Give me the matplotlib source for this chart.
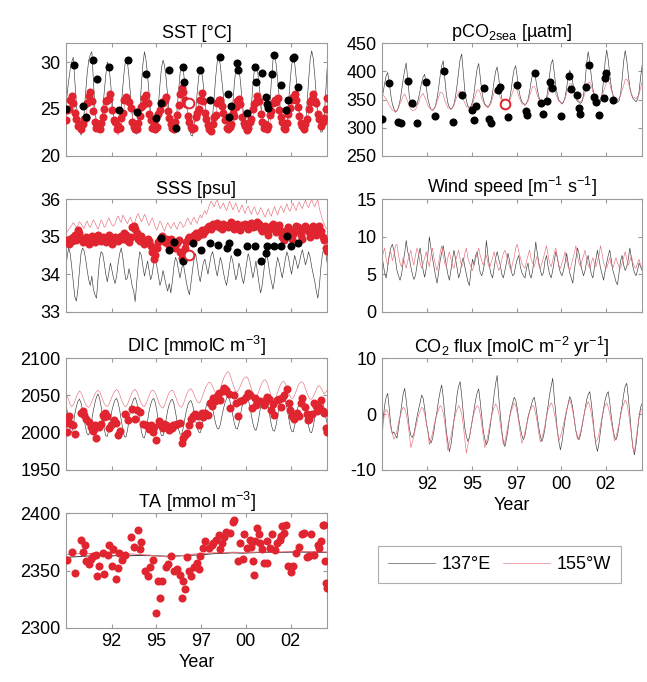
import numpy as np
import matplotlib
matplotlib.use("Agg")
import matplotlib.pyplot as plt
from matplotlib.lines import Line2D

plt.rcParams['font.family'] = ['Liberation Sans', 'DejaVu Sans']
plt.rcParams['mathtext.fontset'] = 'custom'
plt.rcParams['mathtext.rm'] = 'Liberation Sans'
plt.rcParams['mathtext.it'] = 'Liberation Sans:italic'
plt.rcParams['mathtext.bf'] = 'Liberation Sans:bold'
plt.rcParams['axes.unicode_minus'] = False

# ---------------------------------------------------------------------------
# Monthly model series, May 1990 .. Jun 2004 (137E = black, 155W = red)
# ---------------------------------------------------------------------------
sst_137 = [
    25.0, 26.5, 28.0, 29.2, 30.0, 30.5, 28.0, 25.5,
    24.0, 22.8, 22.2, 22.8, 24.5, 26.8, 28.8, 30.2, 30.8, 31.1, 28.0, 25.0,
    23.4, 22.6, 22.5, 23.2, 24.8, 26.8, 28.6, 30.0, 29.6, 28.0, 26.0, 24.2,
    23.6, 22.9, 22.7, 23.4, 25.2, 27.4, 29.2, 30.4, 30.0, 28.4, 26.4, 24.6,
    23.2, 22.4, 22.3, 23.0, 25.0, 27.6, 29.8, 31.1, 30.2, 28.6, 26.5, 24.5,
    23.6, 22.8, 22.6, 23.4, 25.4, 27.6, 29.4, 30.2, 29.6, 28.2, 26.3, 24.6,
    23.2, 22.5, 22.4, 23.1, 24.8, 26.9, 28.8, 29.6, 29.2, 27.8, 26.0, 24.3,
    23.1, 22.2, 22.1, 22.9, 24.6, 26.6, 28.4, 29.3, 29.0, 27.6, 25.8, 24.0,
    23.5, 23.0, 23.3, 24.2, 26.2, 28.4, 30.0, 30.7, 29.6, 28.0, 26.4, 24.8,
    23.8, 23.0, 22.8, 23.5, 25.4, 27.6, 29.3, 30.0, 29.4, 27.9, 26.0, 24.4,
    23.4, 22.6, 22.5, 23.3, 25.2, 27.5, 29.2, 29.8, 29.1, 27.7, 25.9, 24.3,
    23.6, 22.9, 22.7, 23.6, 25.6, 28.0, 30.2, 30.9, 29.8, 28.2, 26.3, 24.6,
    23.5, 22.7, 22.6, 23.4, 25.4, 27.8, 29.6, 30.5, 29.9, 28.3, 26.4, 24.7,
    23.6, 22.8, 22.4, 23.2, 25.4, 28.0, 30.2, 31.2, 30.4, 28.6, 26.4, 24.5,
    23.3, 22.5, 22.6, 23.8, 26.5, 29.3,
]
sst_155 = [
    24.0, 24.6, 25.2, 25.8, 26.2, 26.0, 25.2, 24.3,
    23.6, 23.0, 22.8, 23.0, 23.6, 24.2, 25.0, 25.7, 26.3, 26.1, 25.3, 24.4,
    23.5, 22.8, 22.5, 22.8, 23.4, 24.3, 25.1, 25.9, 26.4, 26.0, 25.1, 24.2,
    23.4, 22.7, 22.2, 22.6, 23.3, 24.2, 25.2, 26.0, 26.6, 26.2, 25.3, 24.4,
    23.5, 22.9, 22.6, 22.9, 23.5, 24.4, 25.3, 26.1, 26.5, 26.2, 25.2, 24.1,
    23.2, 22.6, 22.4, 22.7, 23.4, 24.3, 25.2, 26.0, 26.4, 26.0, 25.1, 24.2,
    23.3, 22.7, 22.5, 22.8, 23.6, 24.5, 25.4, 26.3, 26.8, 26.3, 25.4, 24.5,
    23.6, 23.0, 22.8, 23.1, 23.8, 24.6, 25.5, 26.2, 26.6, 26.2, 25.4, 24.5,
    23.6, 22.9, 22.7, 23.0, 23.6, 24.4, 25.3, 26.0, 26.3, 26.0, 25.2, 24.3,
    23.3, 22.6, 22.4, 22.7, 23.3, 24.1, 25.0, 25.8, 26.2, 25.9, 25.1, 24.1,
    23.2, 22.6, 22.4, 22.6, 23.3, 24.2, 25.1, 25.9, 26.3, 26.0, 25.2, 24.2,
    23.3, 22.7, 22.5, 22.8, 23.5, 24.4, 25.3, 26.1, 26.5, 26.1, 25.3, 24.3,
    23.4, 22.8, 22.6, 22.9, 23.6, 24.5, 25.5, 26.3, 26.8, 26.4, 25.5, 24.6,
    23.7, 23.1, 22.8, 23.0, 23.7, 24.5, 25.4, 26.2, 26.7, 26.3, 25.4, 24.5,
    23.6, 23.0, 22.8, 23.1, 23.8, 24.6,
]
pco2_137 = [
    348, 362, 378, 392, 398, 380, 358, 342,
    334, 328, 330, 336, 348, 365, 385, 402, 415, 385, 356, 342,
    337, 336, 338, 342, 352, 366, 380, 390, 395, 372, 352, 341,
    333, 331, 333, 339, 352, 370, 392, 410, 419, 388, 360, 344,
    336, 333, 335, 342, 356, 376, 400, 422, 431, 398, 366, 348,
    338, 336, 338, 346, 362, 385, 405, 414, 390, 366, 350, 342,
    339, 337, 340, 348, 362, 383, 400, 408, 388, 366, 352, 344,
    341, 339, 342, 350, 366, 388, 404, 410, 390, 368, 354, 346,
    343, 341, 343, 350, 364, 382, 396, 401, 386, 368, 355, 348,
    344, 341, 343, 352, 370, 395, 414, 421, 398, 374, 358, 349,
    345, 342, 345, 354, 370, 390, 402, 396, 380, 364, 353, 347,
    345, 343, 346, 358, 382, 415, 435, 418, 392, 370, 357, 350,
    347, 344, 347, 360, 385, 418, 438, 420, 394, 372, 358, 351,
    348, 345, 348, 360, 386, 418, 437, 420, 394, 372, 359, 352,
    349, 346, 350, 364, 390, 411,
]
pco2_155 = [
    352, 358, 355, 351, 346, 340, 336, 331,
    330, 327, 331, 335, 343, 349, 356, 360, 353, 346, 337, 334,
    330, 331, 332, 338, 343, 353, 357, 361, 354, 348, 339, 335,
    333, 330, 334, 337, 347, 354, 363, 363, 359, 348, 342, 335,
    335, 332, 336, 339, 349, 356, 364, 365, 361, 350, 344, 337,
    337, 333, 337, 341, 351, 359, 367, 367, 362, 351, 346, 339,
    338, 335, 339, 343, 353, 361, 369, 369, 364, 353, 347, 340,
    340, 337, 341, 345, 355, 363, 371, 371, 366, 355, 349, 342,
    342, 339, 343, 347, 357, 365, 373, 373, 368, 357, 351, 344,
    344, 341, 345, 349, 359, 367, 376, 376, 371, 359, 353, 346,
    346, 343, 347, 351, 361, 369, 378, 378, 373, 361, 355, 348,
    348, 345, 349, 353, 363, 371, 380, 381, 376, 364, 357, 350,
    350, 347, 351, 355, 365, 373, 382, 383, 378, 366, 359, 352,
    352, 349, 353, 357, 367, 375, 385, 386, 381, 369, 361, 354,
    354, 351, 355, 359, 371, 381,
]
sss_137 = [
    34.05, 34.45, 34.70, 34.55, 34.20, 33.80, 33.40, 33.28,
    33.60, 34.10, 34.55, 34.70, 34.62, 34.40, 34.10, 33.85, 33.70, 33.95, 33.60, 33.45,
    33.36, 33.90, 34.40, 34.60, 34.55, 34.30, 34.00, 33.80, 34.05, 34.30, 34.10, 33.90,
    33.75, 33.95, 34.30, 34.55, 34.70, 34.45, 34.10, 33.85, 33.90, 34.15, 33.95, 33.70,
    33.55, 33.27, 33.80, 34.30, 34.60, 34.50, 34.20, 33.95, 34.15, 34.35, 34.10, 33.85,
    34.00, 34.30, 34.40, 34.20, 33.95, 33.70, 33.85, 34.10, 33.90, 33.70, 33.55, 33.75,
    33.50, 33.80, 34.20, 34.45, 34.35, 34.10, 33.90, 34.15, 34.30, 34.05, 33.80, 33.60,
    33.45, 33.75, 34.10, 34.40, 34.55, 34.30, 34.00, 33.80, 34.05, 34.30, 34.40, 34.20,
    34.00, 34.25, 34.50, 34.60, 34.40, 34.15, 33.95, 34.20, 34.45, 34.30, 34.05, 33.85,
    33.70, 33.95, 34.25, 34.50, 34.35, 34.10, 33.85, 34.00, 34.30, 34.15, 33.90, 33.75,
    34.00, 34.30, 34.55, 34.40, 34.15, 33.90, 34.10, 34.35, 34.05, 33.75, 33.50, 33.70,
    34.05, 34.40, 34.55, 34.30, 34.00, 33.80, 33.60, 33.85, 34.20, 34.45, 34.30, 34.10,
    33.90, 34.15, 34.40, 34.60, 34.45, 34.20, 34.00, 34.25, 34.50, 34.35, 34.15, 34.30,
    34.50, 34.65, 34.45, 34.25, 34.40, 34.60, 34.45, 34.20, 34.00, 33.80, 33.55, 33.36,
    33.70, 34.20, 34.55, 34.70, 34.60, 34.30,
]
sss_155 = [
    35.05, 35.12, 35.20, 35.25, 35.30, 35.38, 35.32, 35.25,
    35.30, 35.40, 35.35, 35.28, 35.22, 35.35, 35.42, 35.30, 35.25, 35.35, 35.45, 35.38,
    35.28, 35.20, 35.32, 35.45, 35.38, 35.25, 35.30, 35.42, 35.50, 35.40, 35.32, 35.28,
    35.35, 35.48, 35.55, 35.45, 35.38, 35.58, 35.50, 35.42, 35.35, 35.45, 35.52, 35.40,
    35.30, 35.42, 35.55, 35.62, 35.50, 35.40, 35.48, 35.60, 35.52, 35.38, 35.30, 35.42,
    35.50, 35.40, 35.25, 35.18, 35.30, 35.42, 35.35, 35.22, 35.15, 35.28, 35.38, 35.30,
    35.22, 35.30, 35.38, 35.28, 35.20, 35.32, 35.40, 35.35, 35.25, 35.30, 35.42, 35.50,
    35.40, 35.32, 35.45, 35.52, 35.42, 35.35, 35.48, 35.58, 35.50, 35.62, 35.70, 35.60,
    35.72, 35.85, 35.95, 35.88, 35.80, 35.92, 35.98, 35.85, 35.75, 35.82, 35.90, 35.78,
    35.70, 35.82, 35.95, 35.85, 35.72, 35.80, 35.90, 35.78, 35.65, 35.75, 35.85, 35.72,
    35.62, 35.75, 35.82, 35.70, 35.60, 35.72, 35.80, 35.68, 35.58, 35.65, 35.78, 35.70,
    35.60, 35.52, 35.65, 35.75, 35.62, 35.55, 35.70, 35.80, 35.68, 35.58, 35.72, 35.82,
    35.75, 35.65, 35.78, 35.88, 35.75, 35.68, 35.80, 35.90, 35.78, 35.70, 35.85, 35.92,
    35.82, 35.75, 35.88, 35.98, 35.85, 35.78, 35.90, 36.00, 35.88, 35.80, 35.92, 35.98,
    35.75, 35.60, 35.45, 35.35, 35.25, 35.20,
]
wind_137 = [
    7.8, 6.5, 5.2, 4.5, 6.0, 7.5, 8.5, 9.0,
    8.2, 7.0, 5.5, 4.8, 4.2, 5.0, 6.5, 7.8, 9.5, 8.0, 7.2, 6.0,
    5.0, 4.3, 4.8, 6.2, 7.5, 8.5, 7.0, 5.5, 4.6, 5.8, 7.5, 10.0,
    8.5, 7.2, 6.0, 4.8, 3.8, 5.2, 6.8, 7.8, 8.8, 7.5, 6.2, 5.0,
    4.2, 5.5, 7.0, 8.2, 7.0, 5.8, 4.5, 5.2, 6.5, 7.2, 6.0, 5.0,
    4.0, 3.5, 5.5, 7.0, 6.2, 7.5, 8.0, 6.5, 5.2, 4.8, 5.5, 6.8,
    9.5, 7.5, 6.0, 5.0, 4.5, 5.8, 7.2, 8.0, 7.0, 6.2, 5.0, 4.5,
    5.5, 6.5, 7.8, 6.8, 5.5, 4.8, 5.0, 6.2, 7.0, 7.5, 6.0, 5.2,
    4.8, 4.5, 5.8, 6.5, 5.0, 4.5, 5.5, 7.2, 9.3, 7.8, 6.5, 5.5,
    4.8, 5.2, 6.8, 7.5, 6.0, 5.0, 4.5, 5.5, 6.8, 8.0, 7.2, 6.0,
    5.2, 4.8, 5.5, 6.5, 7.8, 6.5, 5.2, 4.5, 3.8, 5.5, 7.0, 8.5,
    7.8, 6.5, 5.5, 4.8, 5.5, 6.8, 7.5, 6.2, 5.0, 4.5, 5.8, 7.0,
    8.2, 7.0, 5.8, 5.0, 4.2, 5.5, 6.5, 7.5, 8.2, 6.8, 5.5, 4.8,
    4.0, 3.6, 5.2, 6.8, 7.5, 6.2, 5.5, 6.0, 7.0, 8.5, 7.2, 6.0,
    5.2, 4.8, 5.5, 6.5, 6.0, 5.5,
]
wind_155 = [
    6.5, 7.8, 8.5, 7.0, 6.2, 7.5, 8.0, 6.8,
    7.5, 8.8, 9.0, 7.5, 6.5, 6.0, 7.2, 6.5, 5.8, 6.8, 7.5, 8.2,
    7.0, 6.2, 7.5, 8.5, 7.8, 6.5, 5.8, 6.5, 7.2, 8.0, 6.8, 6.0,
    7.5, 8.5, 7.2, 6.2, 5.5, 6.5, 7.8, 8.8, 7.5, 6.5, 6.0, 7.2,
    8.0, 7.0, 6.2, 5.8, 6.8, 7.5, 8.2, 7.0, 6.0, 6.5, 7.8, 8.5,
    7.2, 6.5, 6.0, 5.5, 6.2, 7.0, 7.8, 8.5, 7.5, 6.8, 6.2, 7.0,
    7.5, 6.5, 5.8, 6.5, 7.2, 8.0, 7.0, 6.2, 5.5, 6.0, 7.0, 7.8,
    8.2, 7.5, 6.8, 6.0, 5.5, 6.5, 7.2, 8.5, 9.0, 8.0, 7.2, 6.5,
    6.0, 5.8, 6.8, 7.5, 8.2, 7.0, 6.5, 6.0, 6.8, 7.5, 6.2, 5.8,
    6.5, 7.2, 8.0, 8.8, 7.5, 6.5, 6.0, 6.8, 7.8, 8.5, 7.2, 6.2,
    5.8, 6.5, 7.2, 8.0, 6.8, 6.0, 5.5, 6.2, 7.0, 7.8, 8.8, 7.5,
    6.5, 6.0, 6.8, 7.5, 8.2, 7.0, 6.2, 5.8, 6.5, 7.2, 6.5, 6.0,
    6.8, 7.5, 8.8, 7.8, 6.5, 6.0, 5.8, 6.5, 7.2, 6.2, 5.8, 6.5,
    7.2, 6.5, 6.0, 5.8, 6.5, 7.2, 8.0, 7.0, 6.2, 6.8, 7.5, 6.5,
    6.0, 5.8, 6.5, 7.0, 6.2, 5.8,
]
dic_137 = [
    2040, 2030, 2015, 2003, 2000, 2010, 2025, 2035,
    2042, 2045, 2040, 2030, 2018, 2006, 1998, 1997, 2005, 2018, 2030, 2040,
    2048, 2052, 2046, 2035, 2020, 2005, 1996, 1995, 2004, 2018, 2030, 2038,
    2044, 2046, 2040, 2030, 2017, 2004, 1995, 1994, 2003, 2017, 2030, 2039,
    2045, 2047, 2041, 2030, 2016, 2002, 1994, 1993, 2002, 2016, 2029, 2038,
    2044, 2046, 2040, 2029, 2015, 2003, 1996, 1996, 2005, 2018, 2030, 2038,
    2043, 2045, 2039, 2028, 2016, 2005, 1998, 1998, 2006, 2018, 2029, 2037,
    2042, 2043, 2038, 2028, 2017, 2007, 2001, 2000, 2007, 2018, 2028, 2036,
    2042, 2044, 2040, 2032, 2022, 2012, 2006, 2005, 2011, 2022, 2032, 2040,
    2046, 2048, 2044, 2035, 2024, 2013, 2006, 2005, 2012, 2024, 2035, 2043,
    2048, 2050, 2045, 2036, 2024, 2013, 2005, 2003, 2010, 2022, 2034, 2042,
    2047, 2049, 2044, 2034, 2022, 2010, 2003, 2002, 2010, 2022, 2034, 2042,
    2047, 2049, 2044, 2034, 2022, 2010, 2002, 2001, 2009, 2021, 2033, 2041,
    2046, 2048, 2043, 2033, 2021, 2009, 2001, 2000, 2008, 2020, 2032, 2040,
    2045, 2047, 2042, 2033, 2022, 2012,
]
dic_155 = [
    2055, 2050, 2044, 2038, 2035, 2037, 2042, 2048,
    2053, 2056, 2054, 2049, 2043, 2038, 2035, 2034, 2037, 2042, 2047, 2052,
    2055, 2057, 2055, 2050, 2044, 2039, 2036, 2035, 2038, 2043, 2048, 2053,
    2056, 2058, 2056, 2051, 2045, 2040, 2036, 2035, 2038, 2043, 2049, 2054,
    2057, 2058, 2055, 2050, 2044, 2039, 2036, 2035, 2039, 2044, 2050, 2055,
    2057, 2056, 2053, 2048, 2042, 2037, 2034, 2033, 2037, 2043, 2049, 2054,
    2056, 2057, 2054, 2049, 2043, 2038, 2035, 2034, 2038, 2044, 2050, 2055,
    2058, 2059, 2056, 2051, 2046, 2042, 2040, 2041, 2046, 2052, 2058, 2063,
    2066, 2068, 2066, 2062, 2057, 2053, 2052, 2054, 2059, 2066, 2072, 2077,
    2080, 2082, 2079, 2073, 2066, 2060, 2056, 2055, 2058, 2063, 2068, 2072,
    2074, 2075, 2072, 2066, 2059, 2053, 2049, 2048, 2051, 2056, 2062, 2067,
    2070, 2071, 2068, 2062, 2055, 2049, 2046, 2045, 2048, 2054, 2060, 2065,
    2068, 2069, 2066, 2060, 2054, 2049, 2046, 2046, 2050, 2056, 2062, 2066,
    2068, 2068, 2065, 2059, 2053, 2048, 2045, 2045, 2048, 2053, 2058, 2062,
    2063, 2060, 2056, 2052, 2054, 2057,
]
flux_137 = [
    -4.3, -1.0, 1.5, 3.0, 3.7, 1.0, -2.0, -3.5,
    -3.2, -3.8, -4.3, -2.5, -0.5, 1.5, 3.5, 4.6, 2.5, 0.0, -2.5, -3.8,
    -4.2, -3.5, -2.0, -0.5, 0.8, 2.0, 3.4, 2.8, 1.0, -1.5, -3.0, -4.5,
    -5.2, -4.5, -3.0, -1.0, 0.5, 2.5, 4.0, 5.2, 3.0, 0.0, -3.0, -5.0,
    -6.7, -5.5, -3.5, -1.0, 1.0, 3.5, 5.0, 5.8, 3.2, 0.2, -2.5, -4.0,
    -4.9, -4.2, -2.5, -0.8, 0.8, 2.5, 3.8, 4.5, 2.2, -0.5, -3.0, -4.5,
    -5.5, -4.8, -3.0, -1.0, 1.0, 3.5, 5.5, 6.9, 3.0, 0.0, -3.0, -5.0,
    -5.8, -4.5, -2.8, -0.5, 0.8, 2.0, 3.0, 2.5, 1.0, -1.0, -2.5, -3.8,
    -4.6, -3.8, -2.2, -0.5, 0.5, 1.5, 2.5, 3.0, 1.5, -0.5, -2.5, -4.0,
    -4.9, -4.0, -2.5, -0.2, 1.5, 3.5, 5.0, 6.4, 3.0, 0.0, -3.0, -5.0,
    -6.4, -5.0, -3.0, -1.0, 0.5, 1.8, 3.1, 2.5, 1.0, -1.0, -3.0, -4.0,
    -4.6, -3.8, -2.2, -0.5, 1.0, 2.5, 3.5, 4.0, 2.0, -0.5, -3.5, -5.5,
    -6.7, -5.2, -3.0, -0.8, 1.0, 2.5, 3.5, 4.0, 2.0, -0.5, -2.5, -4.0,
    -4.6, -3.8, -2.0, 0.0, 1.5, 3.5, 5.0, 5.5, 3.0, 0.0, -3.5, -6.0,
    -7.3, -5.5, -3.0, -0.5, 1.2, 1.9,
]
flux_155 = [
    -5.5, -2.0, 0.2, 0.8, 0.5, -1.0, -2.5, -3.5,
    -4.5, -4.0, -3.0, -1.5, -0.5, 0.5, 1.2, 1.0, 0.0, -1.5, -3.5, -6.0,
    -5.0, -4.0, -2.5, -1.5, -0.2, 0.5, 1.2, 1.0, 0.0, -1.5, -3.0, -5.5,
    -4.5, -3.5, -2.0, -1.0, 0.0, 0.8, 1.5, 1.2, 0.2, -1.5, -4.0, -6.5,
    -5.0, -4.0, -2.5, -1.2, 0.0, 0.8, 1.5, 1.0, 0.0, -2.0, -4.5, -7.0,
    -5.5, -4.0, -2.5, -1.0, 0.2, 1.0, 1.5, 1.2, 0.0, -2.0, -4.0, -6.0,
    -5.0, -3.8, -2.2, -0.8, 0.3, 1.2, 1.8, 1.2, 0.2, -1.8, -3.5, -5.5,
    -4.8, -3.5, -2.0, -0.8, 0.5, 1.2, 2.0, 1.5, 0.2, -1.5, -3.5, -5.2,
    -4.5, -3.2, -2.0, -0.8, 0.5, 1.0, 1.5, 1.2, 0.0, -1.5, -3.5, -5.0,
    -4.2, -3.2, -2.0, -0.5, 0.8, 1.5, 2.0, 1.5, 0.2, -1.2, -3.0, -4.8,
    -4.0, -3.0, -1.8, -0.5, 0.8, 1.8, 2.5, 1.8, 0.5, -1.0, -3.0, -4.5,
    -4.2, -3.2, -2.0, -0.5, 0.8, 1.5, 2.2, 1.5, 0.2, -1.5, -3.2, -5.0,
    -4.5, -3.5, -2.0, -0.5, 0.8, 1.5, 2.0, 1.2, 0.0, -1.5, -3.0, -4.8,
    -4.2, -3.0, -1.8, -0.3, 1.0, 1.8, 2.5, 2.0, 0.5, -1.5, -3.5, -6.0,
    -6.8, -4.5, -2.5, -0.5, 0.5, 1.0,
]
# Half-yearly alkalinity model values, starting May 1990
ta_137 = [2361.5, 2362.0, 2362.5, 2363.0, 2363.0, 2362.8, 2363.2, 2363.0, 2363.2, 2363.0,
          2362.8, 2362.5, 2362.8, 2363.0, 2363.5, 2364.0, 2364.8, 2365.0, 2365.5, 2365.2,
          2365.5, 2365.8, 2366.0, 2365.8, 2366.0, 2366.2, 2366.0, 2366.0, 2365.8, 2365.8]
ta_155 = [2364.0, 2364.5, 2365.0, 2364.8, 2365.0, 2365.2, 2365.0, 2364.5, 2364.0, 2363.5,
          2362.5, 2362.0, 2362.5, 2363.5, 2364.5, 2365.0, 2365.5, 2365.5, 2366.0, 2365.8,
          2366.0, 2366.2, 2366.5, 2366.2, 2366.5, 2366.8, 2366.5, 2366.5, 2366.2, 2366.0]

# ---------------------------------------------------------------------------
# Observations
# ---------------------------------------------------------------------------
# 155W monthly station samples, May 1990 .. Jun 2004
sst_155_obs = [
    23.8, 24.9, 25.0, 25.9, 26.4, 25.6, 24.6, 23.9,
    23.2, 23.4, 22.9, 23.4, 23.9, 24.0, 25.6, 26.4, 26.8, 25.8, 24.8, 23.6,
    23.0, 23.3, 22.8, 23.5, 24.1, 25.0, 25.8, 25.9, 26.1, 26.6, 24.9, 23.8,
    23.6, 22.9, 23.2, 23.0, 24.0, 24.6, 25.9, 26.3, 26.0, 25.7, 25.1, 23.6,
    23.1, 22.9, 22.8, 23.5, 24.2, 25.2, 25.4, 26.2, 26.5, 25.6, 24.4, 23.8,
    23.0, 23.5, 22.9, 23.1, 24.5, 24.9, 25.7, 25.6, 26.0, 26.3, 24.8, 24.0,
    23.4, 23.0, 22.8, 23.6, 24.3, 25.4, 26.6, 27.2, 26.8, 25.9, 25.5, 24.2,
    23.6, 23.1, 22.8, 23.0, 24.1, 24.6, 25.0, 26.0, 26.7, 25.8, 24.6, 23.9,
    23.3, 22.9, 22.6, 23.4, 24.1, 24.3, 25.6, 25.9, 26.0, 25.3, 24.6, 23.8,
    23.0, 22.8, 23.1, 23.4, 24.6, 24.2, 25.2, 25.8, 26.1, 25.5, 24.1, 23.5,
    23.2, 22.7, 23.0, 23.6, 23.9, 25.0, 25.5, 25.7, 26.4, 25.8, 24.5, 23.6,
    23.0, 23.4, 22.9, 23.2, 24.3, 24.8, 25.6, 26.0, 25.7, 26.2, 24.9, 24.1,
    23.6, 23.0, 22.9, 23.5, 24.4, 25.1, 25.9, 26.3, 26.6, 26.0, 25.2, 24.2,
    23.5, 23.2, 22.9, 23.4, 23.9, 25.0, 25.7, 26.1, 26.6, 25.8, 25.6, 24.4,
    23.9, 23.2, 23.6, 24.0, 25.0, 26.2,
]
sss_155_obs = [
    34.85, 34.90, 34.80, 34.95, 34.88, 35.00, 35.05, 34.92,
    35.18, 35.10, 34.95, 34.85, 34.92, 35.00, 34.88, 34.80, 34.95, 35.02, 34.90, 34.85,
    34.95, 35.05, 34.92, 34.88, 35.00, 34.95, 34.85, 34.98, 35.05, 34.90, 34.80, 34.92,
    35.00, 34.95, 34.88, 34.98, 35.02, 34.95, 35.10, 35.05, 34.92, 34.85, 35.00, 35.25,
    35.28, 35.20, 35.10, 34.95, 34.88, 35.02, 34.92, 34.80, 34.85, 34.95, 34.88, 34.75,
    34.60, 34.40, 34.52, 34.70, 34.85, 34.95, 35.02, 34.92, 34.85, 34.95, 34.80, 34.90,
    34.95, 34.85, 34.78, 34.70, 34.82, 34.90, 34.60, 34.42, 34.55, 34.70, 34.85, 34.95,
    35.00, 34.92, 34.88, 35.05, 35.10, 34.98, 35.05, 35.12, 35.18, 35.08, 35.15, 35.22,
    35.25, 35.30, 35.22, 35.35, 35.28, 35.32, 35.38, 35.25, 35.30, 35.22, 35.35, 35.28,
    35.30, 35.25, 35.35, 35.40, 35.28, 35.22, 35.30, 35.35, 35.25, 35.18, 35.32, 35.28,
    35.35, 35.28, 35.22, 35.30, 35.38, 35.25, 35.32, 35.28, 35.40, 35.35, 35.22, 35.15,
    35.25, 35.30, 35.18, 35.05, 35.22, 35.30, 35.35, 35.20, 35.12, 35.25, 35.32, 35.15,
    35.00, 34.92, 35.05, 35.18, 35.25, 35.10, 34.95, 35.08, 35.22, 35.30, 35.25, 35.15,
    35.05, 34.95, 35.20, 35.28, 35.22, 35.12, 35.00, 35.25, 35.30, 35.18, 35.05, 35.22,
    35.28, 35.15, 35.00, 34.90, 34.70, 34.62,
]

# 137E line cruises (winter and summer sections)
sst_137_obs_t = [1990.42, 1990.84, 1991.33, 1991.50, 1991.83, 1992.07, 1992.74, 1993.28, 1993.73, 1994.24,
                 1994.73, 1995.27, 1995.50, 1995.94, 1996.30, 1996.70, 1996.77, 1997.60, 1998.16, 1998.67,
                 1999.10, 1999.20, 1999.30, 1999.60, 1999.65, 2000.15, 2000.55, 2000.65, 2000.96, 2001.14,
                 2001.24, 2001.29, 2001.50, 2001.60, 2001.96, 2002.23, 2002.36, 2002.60, 2002.65, 2002.90]
sst_137_obs = [25.0, 29.7, 25.3, 24.1, 30.2, 28.2, 29.5, 24.9, 30.2, 24.7,
               28.7, 24.0, 25.6, 29.1, 23.0, 29.5, 27.9, 29.1, 25.9, 30.5,
               26.6, 24.1, 25.3, 29.9, 29.2, 24.6, 29.5, 27.9, 28.8, 26.3,
               25.5, 25.1, 28.7, 30.7, 27.5, 24.9, 26.0, 30.4, 30.5, 27.3]

pco2_137_obs_t = [1990.42, 1990.80, 1991.26, 1991.44, 1991.80, 1992.04, 1992.30, 1992.80, 1993.25, 1993.76,
                  1994.25, 1994.74, 1995.25, 1995.35, 1995.47, 1995.89, 1996.16, 1996.30, 1996.66, 1996.79,
                  1997.19, 1997.70, 1998.19, 1998.24, 1998.66, 1999.00, 1999.12, 1999.30, 1999.50, 1999.60,
                  2000.06, 2000.50, 2000.60, 2000.93, 2001.06, 2001.11, 2001.42, 2001.60, 2001.88, 2001.97,
                  2002.15, 2002.42, 2002.45, 2002.51, 2002.87]
pco2_137_obs = [315, 379, 310, 309, 383, 343, 309, 382, 321, 400,
                310, 358, 331, 313, 338, 370, 316, 308, 367, 373,
                318, 376, 330, 322, 398, 344, 325, 348, 382, 370,
                321, 391, 368, 358, 334, 325, 373, 411, 355, 346,
                322, 352, 389, 397, 350]

sss_137_obs_t = [1995.50, 1995.95, 1996.20, 1996.70, 1997.26, 1997.67, 1998.16, 1998.60, 1999.07, 1999.20,
                 1999.60, 2000.15, 2000.55, 2000.92, 2001.15, 2001.24, 2001.60, 2001.96, 2002.30, 2002.50,
                 2002.87]
sss_137_obs = [34.96, 34.65, 34.85, 34.34, 34.83, 34.65, 34.83, 34.78, 34.70, 34.83,
               34.60, 34.76, 34.74, 34.34, 34.56, 34.74, 34.74, 34.74, 35.03, 34.74,
               34.83]

# 155W carbon samples
dic_155_obs_t = [1990.44, 1990.53, 1990.57, 1990.66, 1990.78, 1990.89,
                 1991.29, 1991.38, 1991.50, 1991.62, 1991.74, 1991.83, 1991.98,
                 1992.01, 1992.16, 1992.28, 1992.41, 1992.52, 1992.59, 1992.74, 1992.83,
                 1993.01, 1993.10, 1993.19, 1993.60, 1993.97,
                 1994.10, 1994.22, 1994.36, 1994.73, 1994.87,
                 1995.00, 1995.09, 1995.27, 1995.41, 1995.54, 1995.63, 1995.81, 1995.96,
                 1996.08, 1996.17, 1996.26, 1996.53, 1996.62, 1996.71, 1996.80, 1996.90,
                 1997.04, 1997.11, 1997.26, 1997.35, 1997.49, 1997.58, 1997.71, 1997.89,
                 1998.07, 1998.16, 1998.34, 1998.43, 1998.61, 1998.70, 1998.85, 1998.92,
                 1999.03, 1999.25, 1999.43, 1999.65, 1999.75, 1999.93,
                 2000.19, 2000.30, 2000.42, 2000.55, 2000.69, 2000.84,
                 2001.06, 2001.20, 2001.33, 2001.45, 2001.60, 2001.74, 2001.87, 2001.99,
                 2002.14, 2002.29, 2002.47, 2002.59, 2002.68, 2002.83, 2002.95,
                 2003.13, 2003.26, 2003.41, 2003.50, 2003.63, 2003.77, 2003.91,
                 2004.04, 2004.13, 2004.22, 2004.31, 2004.40,
                 1990.48, 1991.20, 1991.90, 1992.45, 1993.30, 1993.75, 1994.55, 1995.15,
                 1995.70, 1996.40, 1997.80, 1998.25, 1998.52, 1999.15, 1999.55, 2000.08,
                 2000.62, 2001.12, 2001.52, 2002.05, 2002.38, 2003.05, 2003.35, 2003.85, 2004.44]
dic_155_obs = [2001, 2016, 2022, 2011, 2010, 1998,
               2029, 2024, 2019, 2014, 2008, 2002, 2010,
               1993, 2008, 2011, 2024, 2027, 2023, 2006, 2010,
               2017, 2013, 1997, 2025, 2032,
               2018, 2031, 2028, 2010, 2005,
               2010, 2001, 1990, 2015, 2010, 2006, 2010, 2004,
               2006, 2010, 2010, 2013, 1986, 1993, 1997, 1999,
               2010, 2019, 2023, 2025, 2023, 2010, 2026, 2026,
               2024, 2040, 2046, 2043, 2053, 2044, 2056, 2060,
               2057, 2033, 2051, 2022, 2043, 2044,
               2053, 2051, 2033, 2046, 2042, 2043,
               2037, 2048, 2045, 2031, 2024, 2044, 2045, 2035,
               2051, 2059, 2031, 2022, 2019, 2027, 2022,
               2047, 2035, 2017, 2019, 2025, 2040, 2029,
               2034, 2044, 2029, 2027, 2006,
               2013, 2027, 2005, 2021, 2002, 2017, 2012, 2008,
               2012, 2011, 2021, 2036, 2049, 2052, 2040, 2048,
               2037, 2041, 2038, 2046, 2040, 2040, 2025, 2036, 2001]

ta_155_obs_t = [1990.48, 1990.71, 1990.89, 1991.20, 1991.33, 1991.44, 1991.50, 1991.62, 1991.74, 1991.84,
                1992.00, 1992.05, 1992.16, 1992.37, 1992.46, 1992.65, 1992.74, 1992.88, 1992.95, 1993.10,
                1993.20, 1993.28, 1993.42, 1993.55, 1993.91, 1994.04, 1994.28, 1994.36, 1994.45, 1994.67,
                1994.80, 1994.94, 1995.08, 1995.23, 1995.35, 1995.48, 1995.59, 1995.77, 1995.90, 1996.03,
                1996.20, 1996.35, 1996.53, 1996.62, 1996.70, 1996.80, 1996.93, 1997.02, 1997.15, 1997.30,
                1997.43, 1997.58, 1997.60, 1997.76, 1997.89, 1998.10, 1998.25, 1998.34, 1998.48, 1998.61,
                1998.70, 1998.80, 1998.90, 1999.03, 1999.25, 1999.39, 1999.46, 1999.65, 1999.75, 1999.93,
                2000.00, 2000.15, 2000.30, 2000.37, 2000.46, 2000.51, 2000.60, 2000.70, 2000.80, 2000.87,
                2000.96, 2001.06, 2001.20, 2001.24, 2001.38, 2001.50, 2001.63, 2001.78, 2001.92, 2001.99,
                2002.05, 2002.13, 2002.24, 2002.36, 2002.50, 2002.62, 2002.77, 2002.95, 2003.13, 2003.22,
                2003.37, 2003.50, 2003.58, 2003.76, 2003.95, 2004.04, 2004.13, 2004.22, 2004.31, 2004.35,
                2004.40, 2004.44]
ta_155_obs = [2359, 2366, 2348, 2377, 2366, 2372, 2358, 2356, 2360, 2363,
              2364, 2345, 2354, 2365, 2347, 2364, 2372, 2354, 2369, 2343,
              2352, 2365, 2359, 2364, 2379, 2371, 2385, 2369, 2375, 2350,
              2345, 2353, 2359, 2313, 2341, 2326, 2341, 2353, 2356, 2363,
              2350, 2351, 2346, 2326, 2341, 2334, 2362, 2350, 2345, 2353,
              2357, 2351, 2363, 2370, 2376, 2370, 2372, 2374, 2377, 2381,
              2369, 2374, 2379, 2384, 2383, 2392, 2394, 2358, 2374, 2360,
              2382, 2370, 2377, 2371, 2358, 2346, 2376, 2387, 2382, 2374,
              2369, 2357, 2357, 2376, 2370, 2382, 2368, 2374, 2377, 2380,
              2389, 2383, 2390, 2354, 2349, 2354, 2365, 2371, 2382, 2383,
              2362, 2363, 2382, 2364, 2372, 2370, 2376, 2390, 2390, 2358,
              2339, 2335]

# Single highlighted 155W sample (open circle), early 1997
mark_t = 1997.02
mark_sst = 25.6
mark_sss = 34.52
mark_pco2 = 342

# Axis labels
tick_years = [1992.85, 1995.26, 1997.67, 2000.08, 2002.49]
tick_labels = ['92', '95', '97', '00', '02']

# ---------------------------------------------------------------------------
BLACK_LINE = '#3a3a3a'
RED_LINE = '#e8707c'
RED_DOT = '#e02530'
SPINE = '#9a9a9a'
FS = 13


def month_times(values):
    return 1990 + (4.5 + np.arange(len(values))) / 12.0


def half_year_times(values):
    return 1990.375 + 0.5 * np.arange(len(values))


fig = plt.figure(figsize=(6.47, 6.82), dpi=100)

LEFT_X, RIGHT_X = 0.1020, 0.5904
W_L, W_R = 0.4034, 0.4019
ROW_B = [0.7717, 0.5430, 0.3109, 0.0796]
ROW_H = [0.1648, 0.1648, 0.1640, 0.1677]


def make_axes(col, row, ylim, yticks, title, bottom_labels=False):
    x = LEFT_X if col == 0 else RIGHT_X
    w = W_L if col == 0 else W_R
    ax = fig.add_axes([x, ROW_B[row], w, ROW_H[row]])
    ax.set_xlim(1990.4, 2004.45)
    ax.set_ylim(*ylim)
    ax.set_yticks(yticks)
    ax.set_xticks(tick_years)
    for s in ax.spines.values():
        s.set_color(SPINE)
        s.set_linewidth(0.8)
    ax.tick_params(direction='in', length=3, color=SPINE, labelsize=FS, pad=4,
                   top=True, right=True)
    if bottom_labels:
        ax.set_xticklabels(tick_labels)
        ax.set_xlabel('Year', fontsize=FS, labelpad=3)
    else:
        ax.set_xticklabels([])
    ax.set_title(title, fontsize=FS, pad=4)
    return ax


def draw_lines(ax, t, black, red, lw=0.45):
    ax.plot(t, black, color=BLACK_LINE, lw=lw, zorder=2)
    ax.plot(t, red, color=RED_LINE, lw=lw, zorder=2)


DOT_MS = 5.8

# SST
ax = make_axes(0, 0, (20, 32), [20, 25, 30], 'SST [°C]')
draw_lines(ax, month_times(sst_137), sst_137, sst_155)
ax.plot(month_times(sst_155_obs), sst_155_obs, 'o', color=RED_DOT, ms=DOT_MS, mew=0, zorder=3)
ax.plot(sst_137_obs_t, sst_137_obs, 'o', color='black', ms=DOT_MS, mew=0, zorder=4)
ax.plot([mark_t], [mark_sst], 'o', mfc='white', mec=RED_DOT, ms=7, mew=1.4, zorder=5)

# pCO2
ax = make_axes(1, 0, (250, 450), [250, 300, 350, 400, 450],
               r'pCO$_{\mathrm{2sea}}$ [µatm]')
draw_lines(ax, month_times(pco2_137), pco2_137, pco2_155)
ax.plot(pco2_137_obs_t, pco2_137_obs, 'o', color='black', ms=DOT_MS, mew=0, zorder=4)
ax.plot([mark_t], [mark_pco2], 'o', mfc='white', mec=RED_DOT, ms=7, mew=1.4, zorder=5)

# SSS
ax = make_axes(0, 1, (33, 36), [33, 34, 35, 36], 'SSS [psu]')
draw_lines(ax, month_times(sss_137), sss_137, sss_155)
ax.plot(month_times(sss_155_obs), sss_155_obs, 'o', color=RED_DOT, ms=DOT_MS, mew=0, zorder=3)
ax.plot(sss_137_obs_t, sss_137_obs, 'o', color='black', ms=DOT_MS, mew=0, zorder=4)
ax.plot([mark_t], [mark_sss], 'o', mfc='white', mec=RED_DOT, ms=7, mew=1.4, zorder=5)

# Wind speed
ax = make_axes(1, 1, (0, 15), [0, 5, 10, 15], r'Wind speed [m$^{-1}$ s$^{-1}$]')
draw_lines(ax, month_times(wind_137), wind_137, wind_155)

# DIC
ax = make_axes(0, 2, (1950, 2100), [1950, 2000, 2050, 2100], r'DIC [mmolC m$^{-3}$]')
draw_lines(ax, month_times(dic_137), dic_137, dic_155)
ax.plot(dic_155_obs_t, dic_155_obs, 'o', color=RED_DOT, ms=DOT_MS, mew=0, zorder=3)

# CO2 flux
ax = make_axes(1, 2, (-10, 10), [-10, 0, 10],
               r'CO$_2$ flux [molC m$^{-2}$ yr$^{-1}$]', bottom_labels=True)
draw_lines(ax, month_times(flux_137), flux_137, flux_155)

# TA
ax = make_axes(0, 3, (2300, 2400), [2300, 2350, 2400], r'TA [mmol m$^{-3}$]',
               bottom_labels=True)
draw_lines(ax, half_year_times(ta_137), ta_137, ta_155, lw=0.7)
ax.plot(ta_155_obs_t, ta_155_obs, 'o', color=RED_DOT, ms=DOT_MS, mew=0, zorder=3)

# Legend
handles = [Line2D([], [], color='#777777', lw=0.6),
           Line2D([], [], color='#ee98a2', lw=0.6)]
leg = fig.legend(handles, ['137°E', '155°W'], ncol=2,
                 loc='center', bbox_to_anchor=(0.772, 0.172), fontsize=FS,
                 frameon=True, fancybox=False, handlelength=2.6, handletextpad=0.35,
                 columnspacing=0.7, borderpad=0.55)
leg.get_frame().set_edgecolor(SPINE)
leg.get_frame().set_linewidth(0.8)

fig.savefig('out.png', dpi=100, facecolor='white')
